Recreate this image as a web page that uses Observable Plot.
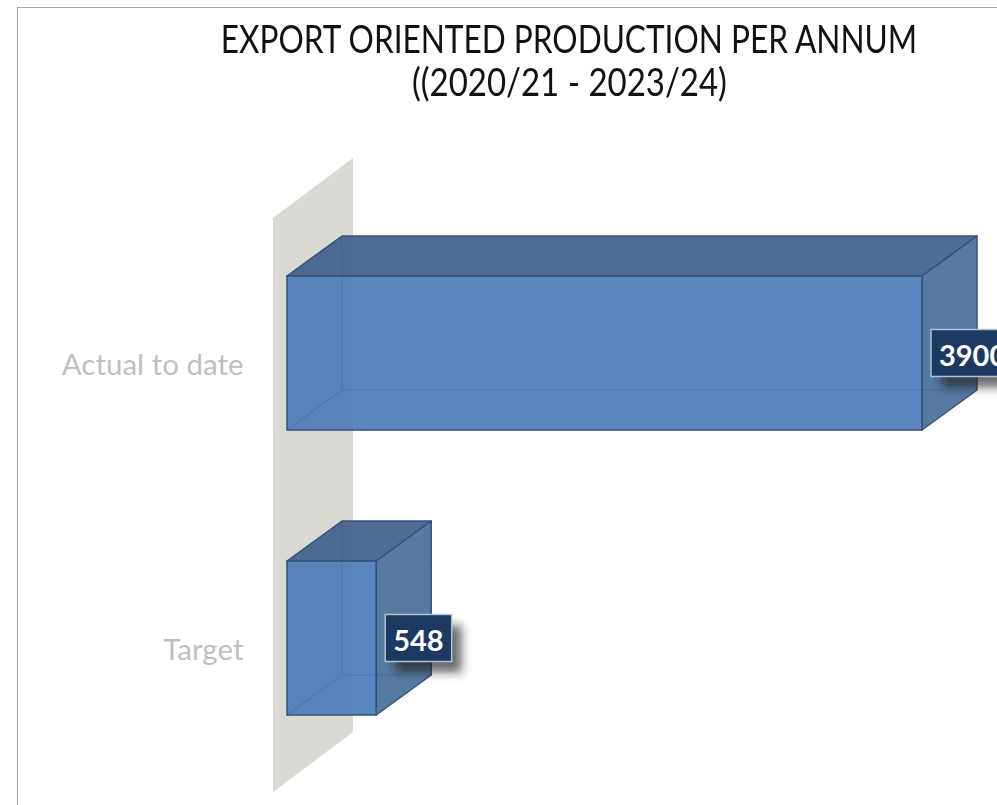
<!DOCTYPE html>
<html>
<head>
<meta charset="utf-8">
<script src="https://cdn.jsdelivr.net/npm/d3@7"></script>
<script src="https://cdn.jsdelivr.net/npm/@observablehq/plot@0.6"></script>
<style>
  html, body { margin: 0; padding: 0; background: #fff; width: 997px; height: 805px; overflow: hidden; }
  #frame { position: absolute; left: 17px; top: 7px; width: 1300px; height: 1000px;
           border-left: 1.5px solid #A6A6A6; border-top: 1.5px solid #A6A6A6; }
  .tl { position: absolute; left: 0; width: 1138px; text-align: center; white-space: nowrap;
        font-family: Lato, "Open Sans", sans-serif; font-size: 38px; line-height: 38px; color: #111; }
  .tl span { display: inline-block; transform-origin: 50% 50%; }
  #chart { position: absolute; left: 0; top: 120px; }
</style>
</head>
<body>
<div id="frame"></div>
<div class="tl" id="t1" style="top:19px"><span></span></div>
<div class="tl" id="t2" style="top:62px"><span></span></div>
<div id="chart"></div>
<script>
// ---- data ----
const categories = ["Actual to date", "Target"];
const values = [3900, 548];
const titleLines = ["EXPORT ORIENTED PRODUCTION PER ANNUM", "((2020/21 - 2023/24)"];

const data = categories.map((c, i) => ({category: c, value: values[i]}));

// ---- title ----
const FONT = "Lato, 'Open Sans', sans-serif";
const canvas = document.createElement("canvas");
const ctx = canvas.getContext("2d");
function textWidth(str, font) { ctx.font = font; return ctx.measureText(str).width; }
const titleTargets = [698, 315];
["t1", "t2"].forEach((id, i) => {
  const span = document.querySelector("#" + id + " span");
  span.textContent = titleLines[i];
  const w = textWidth(titleLines[i], "38px Lato");
  span.style.transform = `scaleX(${(titleTargets[i] / w).toFixed(3)})`;
});

// ---- 3D styling constants ----
const DX = 55, DY = -40;          // bar depth offset (px)
const WALL_OFF = -14, WDX = 80, WDY = -60;  // back wall
const edge = "#33537C";

function wall(index, scales) {
  const x = scales.x, y = scales.y;
  const [r0, r1] = y.range();
  const x0 = x(0) + WALL_OFF;
  const g = d3.create("svg:g");
  g.append("path")
    .attr("d", `M${x0},${r0}L${x0 + WDX},${r0 + WDY}L${x0 + WDX},${r1 + WDY}L${x0},${r1}Z`)
    .attr("fill", "#D9D8D3");
  return g.node();
}

function hiddenEdges(index, scales) {
  const x = scales.x, y = scales.y, bw = y.bandwidth();
  const g = d3.create("svg:g").attr("stroke", edge).attr("stroke-width", 1.5).attr("fill", "none").attr("stroke-opacity", 0.75);
  data.forEach(d => {
    const x0 = x(0), x1 = x(d.value), y0 = y(d.category), y1 = y0 + bw;
    g.append("path").attr("d",
      `M${x0 + DX},${y0 + DY}L${x0 + DX},${y1 + DY}L${x1 + DX},${y1 + DY}` +
      `M${x0},${y1}L${x0 + DX},${y1 + DY}`);
  });
  return g.node();
}

function topSide(index, scales) {
  const x = scales.x, y = scales.y, bw = y.bandwidth();
  const g = d3.create("svg:g").attr("stroke", edge).attr("stroke-width", 1.5).attr("stroke-linejoin", "round");
  data.forEach(d => {
    const x0 = x(0), x1 = x(d.value), y0 = y(d.category), y1 = y0 + bw;
    g.append("path")
      .attr("d", `M${x0},${y0}L${x1},${y0}L${x1 + DX},${y0 + DY}L${x0 + DX},${y0 + DY}Z`)
      .attr("fill", "#44648D").attr("fill-opacity", 0.95);
    g.append("path")
      .attr("d", `M${x1},${y0}L${x1 + DX},${y0 + DY}L${x1 + DX},${y1 + DY}L${x1},${y1}Z`)
      .attr("fill", "#4A709B").attr("fill-opacity", 0.93);
  });
  return g.node();
}

function valueLabels(index, scales) {
  const x = scales.x, y = scales.y, bw = y.bandwidth();
  const g = d3.create("svg:g");
  const fid = "lblShadow";
  g.append("defs").append("filter").attr("id", fid)
    .attr("x", "-50%").attr("y", "-50%").attr("width", "200%").attr("height", "200%")
    .append("feGaussianBlur").attr("stdDeviation", 5);
  data.forEach(d => {
    const txt = String(d.value);
    const tw = textWidth(txt, "bold 29px Lato");
    const w = tw + 16, h = 47;
    const bx = x(d.value) + 9, cy = y(d.category) + bw / 2, by = cy - h / 2;
    g.append("rect").attr("x", bx + 10).attr("y", by + 11).attr("width", w).attr("height", h)
      .attr("fill", "#202020").attr("fill-opacity", 0.65).attr("filter", `url(#${fid})`);
    g.append("rect").attr("x", bx).attr("y", by).attr("width", w).attr("height", h)
      .attr("fill", "#1B3961").attr("stroke", "#B4C1D3").attr("stroke-width", 1.5);
    g.append("text").attr("x", bx + w / 2).attr("y", cy + 1)
      .attr("text-anchor", "middle").attr("dominant-baseline", "central")
      .attr("fill", "#fff").attr("font-family", FONT).attr("font-weight", "bold").attr("font-size", 29)
      .text(txt);
  });
  return g.node();
}

const chart = Plot.plot({
  width: 997,
  height: 685,
  marginLeft: 287,
  marginRight: 75,
  marginTop: 98,
  marginBottom: 13,
  style: {background: "transparent", overflow: "hidden"},
  x: {domain: [0, d3.max(values)], axis: null},
  y: {domain: categories, axis: null, paddingInner: 0.458, paddingOuter: 0.2335, align: 0.43},
  marks: [
    wall,
    hiddenEdges,
    topSide,
    Plot.barX(data, {x: "value", y: "category", fill: "#497AB8", fillOpacity: 0.9,
                     stroke: edge, strokeWidth: 1.5}),
    Plot.text(data, {x: 0, y: "category", text: "category", textAnchor: "end", dx: -44, dy: 12,
                     fontSize: 29.5, fill: "#BFBFBF", fontFamily: FONT}),
    valueLabels
  ]
});
document.getElementById("chart").appendChild(chart);
</script>
</body>
</html>
